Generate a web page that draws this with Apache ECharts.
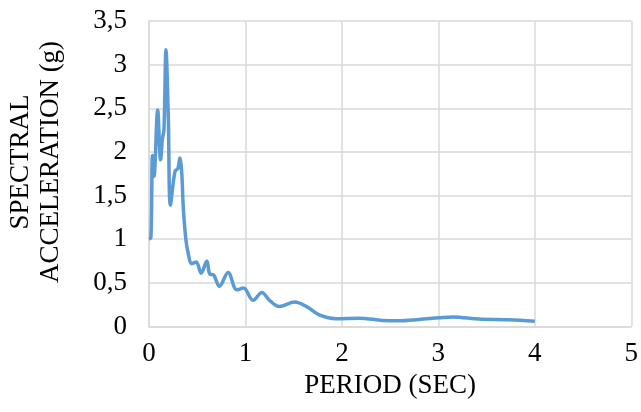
<!DOCTYPE html>
<html>
<head>
<meta charset="utf-8">
<script src="https://cdn.jsdelivr.net/npm/echarts@6/dist/echarts.min.js"></script>
<style>html,body{margin:0;padding:0;background:#fff}#c{width:641px;height:412px}</style>
</head>
<body>
<div id="c"></div>
<script>
var periods = [0, 0.02, 0.036, 0.052, 0.09, 0.12, 0.14, 0.155, 0.176, 0.2, 0.222, 0.27, 0.30, 0.32, 0.34, 0.355, 0.383, 0.41, 0.44, 0.49, 0.54, 0.60, 0.63, 0.67, 0.73, 0.82, 0.91, 0.98, 1.08, 1.17, 1.25, 1.35, 1.51, 1.63, 1.77, 1.94, 2.18, 2.42, 2.59, 2.80, 3.01, 3.15, 3.42, 3.73, 4.0];
var accel = [1.0, 1.02, 1.96, 1.72, 2.48, 1.91, 2.16, 2.25, 3.17, 2.4, 1.39, 1.78, 1.81, 1.93, 1.75, 1.37, 0.99, 0.82, 0.72, 0.74, 0.61, 0.75, 0.60, 0.59, 0.46, 0.62, 0.42, 0.44, 0.30, 0.39, 0.30, 0.23, 0.28, 0.23, 0.13, 0.09, 0.095, 0.07, 0.065, 0.08, 0.10, 0.11, 0.085, 0.077, 0.06];
var xTitle = 'PERIOD (SEC)';
var yTitleLines = ['SPECTRAL', 'ACCELERATION (g)'];

var pts = periods.map(function (p, i) { return [p, accel[i]]; });
var font = 'Liberation Serif';
var fs = 27;
var chart = echarts.init(document.getElementById('c'), null, {renderer: 'canvas'});
chart.setOption({
  animation: false,
  backgroundColor: '#fff',
  grid: {left: 149, right: 8.5, top: 21, bottom: 85.5},
  xAxis: {
    type: 'value', min: 0, max: 5, interval: 1,
    name: xTitle, nameLocation: 'middle', nameGap: 46,
    nameTextStyle: {fontFamily: font, fontSize: fs, color: '#000'},
    axisLine: {lineStyle: {color: '#d9d9d9', width: 1.5}},
    axisTick: {show: false},
    axisLabel: {fontFamily: font, fontSize: fs, color: '#000', margin: 14},
    splitLine: {show: true, lineStyle: {color: '#d9d9d9', width: 1.5}}
  },
  yAxis: {
    type: 'value', min: 0, max: 3.5, interval: 0.5,
    axisLine: {show: true, lineStyle: {color: '#d9d9d9', width: 1.5}},
    axisTick: {show: false},
    axisLabel: {fontFamily: font, fontSize: fs, color: '#000', margin: 22,
      formatter: function (v) { return String(v).replace('.', ','); }},
    splitLine: {show: true, lineStyle: {color: '#d9d9d9', width: 1.5}}
  },
  graphic: [{
    type: 'text', x: 36, y: 162, rotation: Math.PI / 2,
    style: {text: yTitleLines.join('\n'), fontFamily: font, fontSize: fs, fill: '#000',
      align: 'center', verticalAlign: 'middle', lineHeight: 30}
  }],
  series: [{
    type: 'line', data: pts, smooth: 0.35, showSymbol: false,
    lineStyle: {color: '#5B9BD5', width: 3.5}
  }]
});
</script>
</body>
</html>
